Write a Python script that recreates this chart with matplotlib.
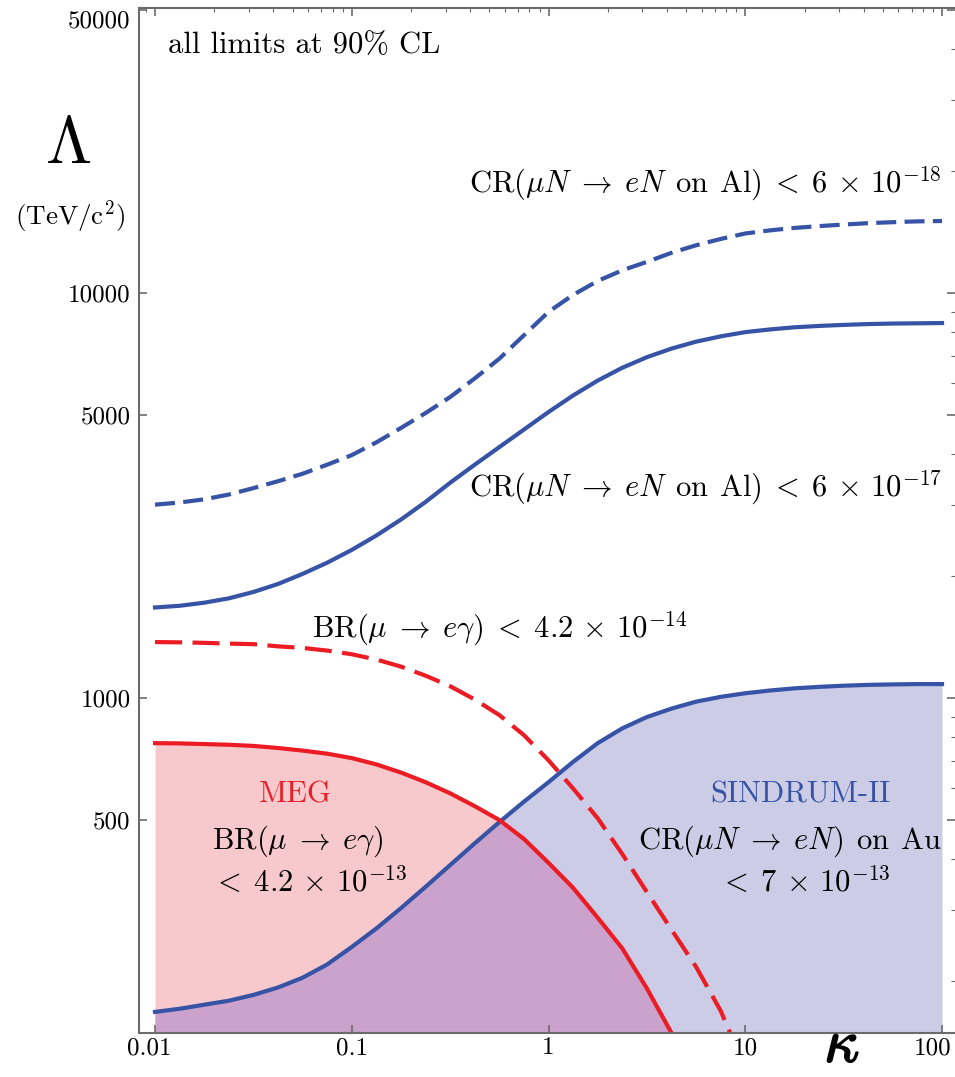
import numpy as np
import matplotlib
matplotlib.use('Agg')
import matplotlib.pyplot as plt
import matplotlib.transforms as mtransforms
import matplotlib.patheffects as pe
from matplotlib.ticker import LogLocator, NullFormatter

plt.rcParams['font.family'] = 'cmr10'
plt.rcParams['mathtext.fontset'] = 'cm'
plt.rcParams['axes.unicode_minus'] = False

nan = np.nan

# kappa grid (1/8 decade steps) and Lambda limits in TeV/c^2
kappa = [0.01, 0.01334, 0.01778, 0.02371, 0.03162, 0.04217, 0.05623, 0.07499,
         0.1, 0.1334, 0.1778, 0.2371, 0.3162, 0.4217, 0.5623, 0.7499,
         1.0, 1.334, 1.778, 2.371, 3.162, 4.217, 5.623, 7.499,
         10.0, 13.34, 17.78, 23.71, 31.62, 42.17, 56.23, 74.99, 100.0]

cr_al_18 = [3003, 3040, 3095, 3181, 3299, 3431, 3580, 3769,
            3980, 4280, 4644, 5055, 5536, 6155, 6885, 7866,
            8985, 9899, 10710, 11380, 11940, 12570, 13120, 13600,
            14030, 14280, 14480, 14630, 14760, 14880, 14960, 15030, 15060]

cr_al_17 = [1674, 1690, 1720, 1763, 1828, 1913, 2026, 2159,
            2322, 2520, 2759, 3049, 3401, 3769, 4165, 4602,
            5085, 5587, 6080, 6539, 6945, 7292, 7585, 7817,
            8008, 8131, 8231, 8294, 8344, 8383, 8408, 8420, 8433]

sindrum = [168, 171, 175, 179, 185, 193, 204, 220,
           243, 270, 303, 342, 387, 438, 494, 555,
           620, 696, 774, 842, 898, 942, 980, 1007,
           1028, 1044, 1057, 1066, 1073, 1078, 1081, 1083, 1083]

meg = [774, 773, 770, 767, 762, 753, 742, 729,
       711, 686, 655, 620, 582, 541, 500, 449,
       392, 340, 287, 241, 192, 149, nan, nan,
       nan, nan, nan, nan, nan, nan, nan, nan, nan]

# future MEG dashed curve, ends where it leaves the plot at kappa ~ 8.4
kappa_br14 = kappa[:24] + [8.38]
br_14 = [1375, 1373, 1369, 1363, 1359, 1342, 1330, 1310,
         1283, 1245, 1196, 1136, 1070, 992, 908, 810,
         702, 598, 505, 412, 332, 268, 217, 169, 149]

x_ticks = [0.01, 0.1, 1, 10, 100]
x_labels = ['0.01', '0.1', '1', '10', '100']
y_ticks = [500, 1000, 5000, 10000, 50000]
y_labels = ['500', '1000', '5000', '10000', '50000']

blue = '#3653a6'
red = '#ec1c24'
pink = '#f8c9cc'
lav = '#cdcce6'
purple = '#cba2cb'
grey = '#6b6b6b'

fig = plt.figure(figsize=(9.55, 10.77), dpi=100)
ax = fig.add_axes([139/955, 1 - 1033/1077, 816/955, 1025/1077])
ax.set_xscale('log')
ax.set_yscale('log')

k = np.array(kappa)
m = np.array(meg)
s = np.array(sindrum)
ax.fill_between(k, 100, m, color=pink, lw=0)
ax.fill_between(k, 100, s, color=lav, lw=0)
ax.fill_between(k, 100, np.minimum(m, s), color=purple, lw=0)

lw = 3
ax.plot(kappa, cr_al_18, color=blue, lw=lw, dashes=(4.8, 2.0))
ax.plot(kappa, cr_al_17, color=blue, lw=lw)
ax.plot(kappa, sindrum, color=blue, lw=lw)
ax.plot(kappa, meg, color=red, lw=lw)
ax.plot(kappa_br14, br_14, color=red, lw=lw, dashes=(6.5, 2.5))

ax.set_xlim(0.00829, 116.4)
ax.set_ylim(149, 50550)

ax.set_xticks(x_ticks, x_labels)
ax.set_yticks(y_ticks, y_labels)
ax.xaxis.set_minor_locator(LogLocator(subs=np.arange(2, 10)))
ax.yaxis.set_minor_locator(LogLocator(subs=np.arange(2, 10)))
ax.xaxis.set_minor_formatter(NullFormatter())
ax.yaxis.set_minor_formatter(NullFormatter())
ax.tick_params(which='major', direction='in', length=6, width=1.2, color=grey,
               top=True, right=True, labelsize=18)
ax.tick_params(axis='x', which='major', pad=3)
ax.tick_params(axis='y', which='major', pad=6)
ax.tick_params(which='minor', direction='in', length=3, width=0.8, color=grey,
               top=True, right=True, bottom=False, left=False)
for sp in ax.spines.values():
    sp.set_color(grey)
    sp.set_linewidth(1.5)
ax.spines['right'].set_visible(False)

# nudge edge labels inside like the original
lbls = ax.get_xticklabels()
lbls[0].set_transform(lbls[0].get_transform() + mtransforms.ScaledTranslation(-0.06, 0, fig.dpi_scale_trans))
lbls[-1].set_transform(lbls[-1].get_transform() + mtransforms.ScaledTranslation(-0.09, 0, fig.dpi_scale_trans))
ax.get_yticklabels()[-1].set_va('top')

fs = 22
ax.text(0.0355, 0.964, 'all limits at 90% CL', transform=ax.transAxes,
        fontsize=fs, ha='left', va='center')
ax.text(0.984, 0.8205,
        r'$\mathrm{CR}(\mu N \;\rightarrow\; eN\;\,\mathrm{on\;\,Al}) \;<\; 6 \,\times\, 10^{-18}$',
        transform=ax.transAxes, fontsize=fs, ha='right', va='baseline')
ax.text(0.984, 0.523,
        r'$\mathrm{CR}(\mu N \;\rightarrow\; eN\;\,\mathrm{on\;\,Al}) \;<\; 6 \,\times\, 10^{-17}$',
        transform=ax.transAxes, fontsize=fs, ha='right', va='baseline')
ax.text(0.212, 0.3854, r'$\mathrm{BR}(\mu \;\rightarrow\; e\gamma) \;<\; 4.2 \,\times\, 10^{-14}$',
        transform=ax.transAxes, fontsize=fs, ha='left', va='baseline')

ax.text(0.191, 0.2244, 'MEG', color=red, transform=ax.transAxes,
        fontsize=fs, ha='center', va='baseline')
ax.text(0.0895, 0.1795, r'$\mathrm{BR}(\mu \;\rightarrow\; e\gamma)$',
        transform=ax.transAxes, fontsize=fs, ha='left', va='baseline')
ax.text(0.0895, 0.1376, r'$<\; 4.2 \,\times\, 10^{-13}$',
        transform=ax.transAxes, fontsize=fs, ha='left', va='baseline')

ax.text(0.810, 0.2244, 'SINDRUM-II', color=blue, transform=ax.transAxes,
        fontsize=fs, ha='center', va='baseline')
ax.text(0.798, 0.1795, r'$\mathrm{CR}(\mu N \;\rightarrow\; eN)\;\,\mathrm{on\;\,Au}$',
        transform=ax.transAxes, fontsize=fs, ha='center', va='baseline')
ax.text(0.816, 0.1376, r'$<\; 7 \,\times\, 10^{-13}$',
        transform=ax.transAxes, fontsize=fs, ha='center', va='baseline')

fig.text(68/955, 1 - 163/1077, r'$\Lambda$', fontsize=48, ha='center', va='baseline')
fig.text(70/955, 1 - 225/1077, r'$(\mathrm{TeV/c}^2)$', fontsize=19.5, ha='center', va='baseline')
fig.text(842/955, 3/1077, r'$\kappa$', fontsize=44, ha='center', va='bottom',
         path_effects=[pe.withStroke(linewidth=1.2, foreground='black')])

fig.savefig('out.png', dpi=100)
